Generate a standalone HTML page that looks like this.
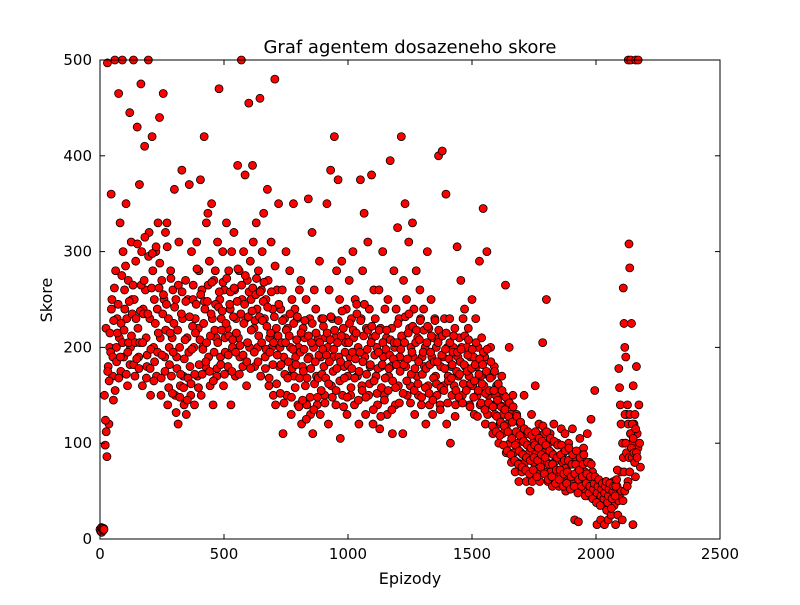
<!DOCTYPE html>
<html><head><meta charset="utf-8"><style>
body{margin:0;background:#fff;}
svg text{font-family:"DejaVu Sans","Liberation Sans",sans-serif;}
</style></head><body>
<svg id="chart" width="800" height="600">
<rect width="800" height="600" fill="#fff"/>
<text x="410" y="53" font-size="18" text-anchor="middle">Graf agentem dosazeneho skore</text>
<text x="410" y="584" font-size="16" text-anchor="middle">Epizody</text>
<text x="52" y="300" font-size="16" text-anchor="middle" transform="rotate(-90 52 300)">Skore</text>
<g id="points"></g>
<rect x="100" y="60" width="620" height="479" fill="none" stroke="#000" stroke-width="1"/>
<g id="axes"></g>
</svg>
<script>
const xTicks=[0,500,1000,1500,2000,2500];
const yTicks=[0,100,200,300,400,500];
const episodes=[0,15,30,45,60,75,90,105,120,135,150,165,180,195,210,225,240,255,270,285,300,315,330,345,360,375,390,405,420,435,450,465,480,495,510,525,540,555,570,585,600,615,630,645,660,675,690,705,720,735,750,765,780,795,810,825,840,855,870,885,900,915,930,945,960,975,990,1005,1020,1035,1050,1065,1080,1095,1110,1125,1140,1155,1170,1185,1200,1215,1230,1245,1260,1275,1290,1305,1320,1335,1350,1365,1380,1395,1410,1425,1440,1455,1470,1485,1500,1515,1530,1545,1560,1575,1590,1605,1620,1635,1650,1665,1680,1695,1710,1725,1740,1755,1770,1785,1800,1815,1830,1845,1860,1875,1890,1905,1920,1935,1950,1965,1980,1995,2010,2025,2040,2055,2070,2085,2100,2110,2120,2130,2140,2150,2160,2170];
const scores=[[10,8,12,9],[11,150,98,220],[497,180,120,200],[360,250,170,145],[500,280,200,230],[465,210,330,175],[500,300,190,260],[350,230,160,270],[445,200,310,250],[500,250,170,290],[430,220,190,370],[475,300,160,240],[410,260,210,180],[500,320,230,150],[420,280,200,250],[300,170,240,330],[440,210,150,270],[465,250,190,320],[330,140,230,200],[280,170,210,260],[365,150,250,190],[120,310,200,160],[385,230,170,140],[270,130,210,250],[370,180,150,300],[250,200,140,230],[310,170,220,280],[375,150,260,200],[420,240,180,330],[340,190,290,160],[350,230,140,270],[280,210,170,310],[470,250,190,230],[300,160,260,210],[330,220,180,280],[240,140,300,200],[320,260,170,230],[390,210,280,190],[500,250,180,300],[380,230,160,270],[455,200,290,250],[390,310,220,180],[330,240,200,280],[460,170,260,300],[340,230,190,250],[365,270,160,210],[310,200,240,150],[480,140,220,260],[350,180,200,240],[260,110,190,230],[300,150,220,170],[280,200,130,250],[350,170,240,190],[230,140,200,260],[270,120,180,220],[210,160,250,140],[355,190,230,130],[320,110,200,260],[240,170,140,210],[290,130,190,230],[230,180,150,210],[350,200,120,260],[385,160,230,190],[420,210,140,280],[375,190,250,105],[290,150,220,180],[210,240,130,170],[270,190,150,230],[300,210,140,250],[245,170,200,120],[375,230,160,280],[340,190,130,220],[310,150,240,180],[380,210,120,260],[230,170,200,140],[260,115,220,180],[300,190,150,240],[210,130,250,170],[395,180,220,110],[280,200,140,240],[325,160,230,190],[420,210,110,270],[350,180,250,150],[310,220,160,200],[330,190,240,130],[280,170,210,150],[260,230,140,190],[240,180,200,120],[300,160,220,140],[250,190,130,210],[230,170,200,150],[400,210,140,180],[405,190,160,230],[360,120,200,170],[230,100,180,150],[200,160,220,140],[305,190,170,210],[270,200,150,230],[240,180,160,200],[220,170,140,190],[250,160,190,130],[230,180,150,200],[290,140,170,210],[345,160,190,120],[300,130,150,170],[200,140,170,110],[180,130,150,160],[160,100,140,120],[170,110,130,150],[265,90,140,120],[200,100,130,80],[150,90,110,70],[130,80,100,60],[120,90,70,105],[150,80,100,60],[110,70,90,50],[130,60,100,80],[160,90,110,70],[120,60,80,100],[205,90,110,70],[250,80,60,100],[110,70,90,55],[120,80,60,100],[100,70,55,85],[115,60,80,90],[110,50,75,95],[100,65,80,55],[115,60,85,20],[90,55,70,18],[105,50,75,60],[95,60,70,50],[110,45,65,80],[125,55,70,50],[155,45,60,15],[60,40,50,20],[55,45,35,15],[60,30,50,20],[55,40,25,45],[60,35,50,15],[55,25,40,45],[70,50,20,40],[262,225,200,100],[190,130,90,60],[500,308,283,110],[500,225,100,15],[160,120,80,65],[500,180,110,95],[500,140,100,75]];
const scores2=[[7,11,9,10],[124,112,86,175],[165,215,195,240],[190,228,262,155],[185,215,245,168],[190,225,275,205],[218,240,285,172],[195,205,248,182],[212,235,265,182],[205,230,188,308],[178,205,238,265],[205,235,270,315],[168,192,235,295],[178,198,262,298],[165,185,225,305],[195,215,262,288],[168,192,235,255],[175,218,245,305],[158,182,215,272],[152,195,225,242],[132,178,218,265],[148,172,235,258],[158,188,208,248],[145,168,195,232],[162,198,222,265],[172,215,245,282],[158,182,208,255],[172,198,225,248],[185,205,248,265],[175,212,235,268],[165,195,218,245],[178,205,242,258],[182,218,238,268],[172,195,225,272],[192,212,245,258],[175,208,232,262],[195,215,248,282],[172,202,235,265],[192,225,245,275],[185,205,232,258],[178,218,238,262],[195,228,255,272],[185,212,232,258],[205,228,248,268],[178,198,222,242],[168,195,215,258],[182,205,232,285],[162,192,212,245],[152,182,205,228],[142,172,205,218],[168,185,212,235],[148,178,198,225],[158,182,208,232],[138,168,195,215],[145,175,198,228],[125,168,188,212],[148,178,205,225],[135,162,185,215],[148,168,192,205],[155,172,198,222],[142,168,192,215],[162,185,208,232],[148,175,198,218],[155,178,205,228],[165,185,212,238],[138,168,195,205],[148,182,205,225],[158,178,195,218],[168,188,215,235],[145,175,195,228],[155,185,212,245],[148,172,198,218],[162,182,205,222],[135,165,192,212],[152,178,195,218],[128,158,182,205],[145,168,198,218],[155,178,192,208],[135,165,188,205],[158,182,205,225],[142,175,198,212],[152,182,205,232],[165,188,215,235],[142,172,195,222],[155,178,205,218],[162,185,208,228],[148,172,195,218],[158,178,205,222],[152,182,195,212],[145,168,185,228],[162,185,205,218],[135,158,192,212],[155,178,198,215],[142,165,188,205],[168,182,195,212],[128,155,175,195],[148,172,185,198],[142,162,182,212],[155,175,192,208],[138,162,178,198],[148,165,182,205],[128,155,172,188],[142,162,182,195],[135,152,175,198],[142,155,168,185],[118,138,155,175],[112,128,145,162],[108,122,138,155],[98,118,135,148],[92,112,128,142],[88,105,122,138],[82,98,112,128],[78,92,108,122],[75,88,102,115],[72,85,98,112],[68,82,95,108],[72,85,98,112],[65,82,95,105],[75,88,102,118],[68,85,98,112],[62,78,92,105],[65,78,88,102],[58,72,85,98],[62,72,88,98],[55,68,82,92],[58,70,82,95],[52,65,78,88],[55,68,78,92],[48,62,72,85],[55,65,78,88],[45,58,68,80],[48,55,65,78],[42,52,58,65],[38,48,55,62],[35,45,52,58],[42,48,55,60],[38,45,52,58],[32,42,50,55],[45,55,62,72],[178,158,140,120],[100,85,70,50],[130,100,90,55],[140,120,85,70],[130,110,95,85],[120,105,90,80],[130,115,90,85]];
const X0=100,X1=720,Y0=539,Y1=60;
function xs(v){return X0+(v-0)/(2500-0)*(X1-X0);}
function ys(v){return Y0-(v-0)/(500-0)*(Y0-Y1);}
const NS="http://www.w3.org/2000/svg";
const pg=document.getElementById('points');
function drawSet(set,offset){
  episodes.forEach((e,i)=>{
    if(!set[i]) return;
    set[i].forEach((s,j)=>{
      const c=document.createElementNS(NS,'circle');
      c.setAttribute('cx',xs(e+offset+j*3));
      c.setAttribute('cy',ys(s));
      c.setAttribute('r',4);
      c.setAttribute('fill','#ff0000');
      c.setAttribute('stroke','#000');
      c.setAttribute('stroke-width','0.8');
      
      
      pg.appendChild(c);
    });
  });
}
drawSet(scores,0);
drawSet(scores2,7);
const ax=document.getElementById('axes');
xTicks.forEach(t=>{
  const x=xs(t);
  [[Y0,Y0-5],[Y1,Y1+5]].forEach(p=>{
    const l=document.createElementNS(NS,'line');
    l.setAttribute('x1',x);l.setAttribute('x2',x);l.setAttribute('y1',p[0]);l.setAttribute('y2',p[1]);
    l.setAttribute('stroke','#000');
    
    
    ax.appendChild(l);
  });
  const tx=document.createElementNS(NS,'text');
  tx.setAttribute('x',x);tx.setAttribute('y',Y0+20);tx.setAttribute('font-size','15');tx.setAttribute('text-anchor','middle');
  tx.textContent=t;
  
  
  ax.appendChild(tx);
});
yTicks.forEach(t=>{
  const y=ys(t);
  [[X0,X0+5],[X1,X1-5]].forEach(p=>{
    const l=document.createElementNS(NS,'line');
    l.setAttribute('x1',p[0]);l.setAttribute('x2',p[1]);l.setAttribute('y1',y);l.setAttribute('y2',y);
    l.setAttribute('stroke','#000');
    
    
    ax.appendChild(l);
  });
  const tx=document.createElementNS(NS,'text');
  tx.setAttribute('x',X0-8);tx.setAttribute('y',y+5);tx.setAttribute('font-size','15');tx.setAttribute('text-anchor','end');
  tx.textContent=t;
  
  
  ax.appendChild(tx);
});
</script>
</body></html>
